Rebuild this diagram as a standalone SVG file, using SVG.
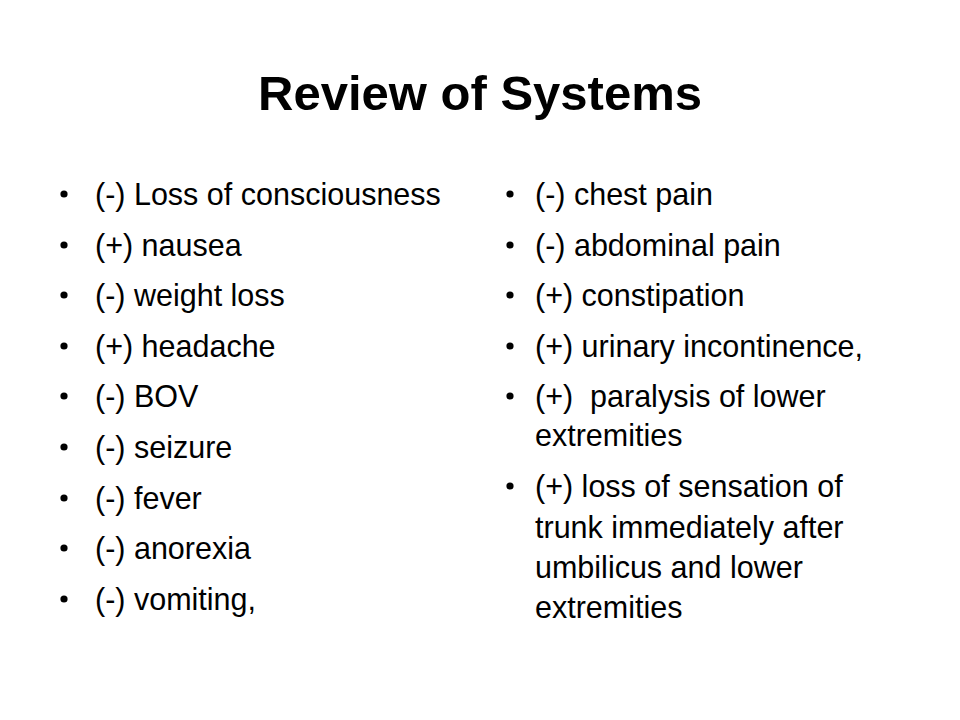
<svg xmlns="http://www.w3.org/2000/svg" width="960" height="720" viewBox="0 0 960 720">
<style>
.t{font-family:"Liberation Sans",Arial,sans-serif;font-size:49px;font-weight:bold;fill:#000}
.b{font-family:"Liberation Sans",Arial,sans-serif;font-size:30.5px;fill:#000;white-space:pre}
.d{fill:#000}
</style>
<rect width="960" height="720" fill="#fff"/>
<text class="t" x="480" y="110" text-anchor="middle">Review of Systems</text>
<g id="left">
<circle class="d" cx="64" cy="194" r="3.6"/><text class="b" x="95" y="205">(-) Loss of consciousness</text>
<circle class="d" cx="64" cy="245" r="3.6"/><text class="b" x="95" y="256">(+) nausea</text>
<circle class="d" cx="64" cy="295" r="3.6"/><text class="b" x="95" y="306">(-) weight loss</text>
<circle class="d" cx="64" cy="346" r="3.6"/><text class="b" x="95" y="357">(+) headache</text>
<circle class="d" cx="64" cy="396" r="3.6"/><text class="b" x="95" y="407">(-) BOV</text>
<circle class="d" cx="64" cy="447" r="3.6"/><text class="b" x="95" y="458">(-) seizure</text>
<circle class="d" cx="64" cy="498" r="3.6"/><text class="b" x="95" y="509">(-) fever</text>
<circle class="d" cx="64" cy="548" r="3.6"/><text class="b" x="95" y="559">(-) anorexia</text>
<circle class="d" cx="64" cy="599" r="3.6"/><text class="b" x="95" y="610">(-) vomiting,</text>
</g>
<g id="right">
<circle class="d" cx="510" cy="194" r="3.6"/><text class="b" x="535" y="205">(-) chest pain</text>
<circle class="d" cx="510" cy="245" r="3.6"/><text class="b" x="535" y="256">(-) abdominal pain</text>
<circle class="d" cx="510" cy="295" r="3.6"/><text class="b" x="535" y="306">(+) constipation</text>
<circle class="d" cx="510" cy="346" r="3.6"/><text class="b" x="535" y="357">(+) urinary incontinence,</text>
<circle class="d" cx="510" cy="396" r="3.6"/><text class="b" x="535" y="407" xml:space="preserve">(+)  paralysis of lower</text>
<text class="b" x="535" y="446">extremities</text>
<circle class="d" cx="510" cy="486" r="3.6"/><text class="b" x="535" y="497">(+) loss of sensation of</text>
<text class="b" x="535" y="538">trunk immediately after</text>
<text class="b" x="535" y="578">umbilicus and lower</text>
<text class="b" x="535" y="618">extremities</text>
</g>
</svg>
